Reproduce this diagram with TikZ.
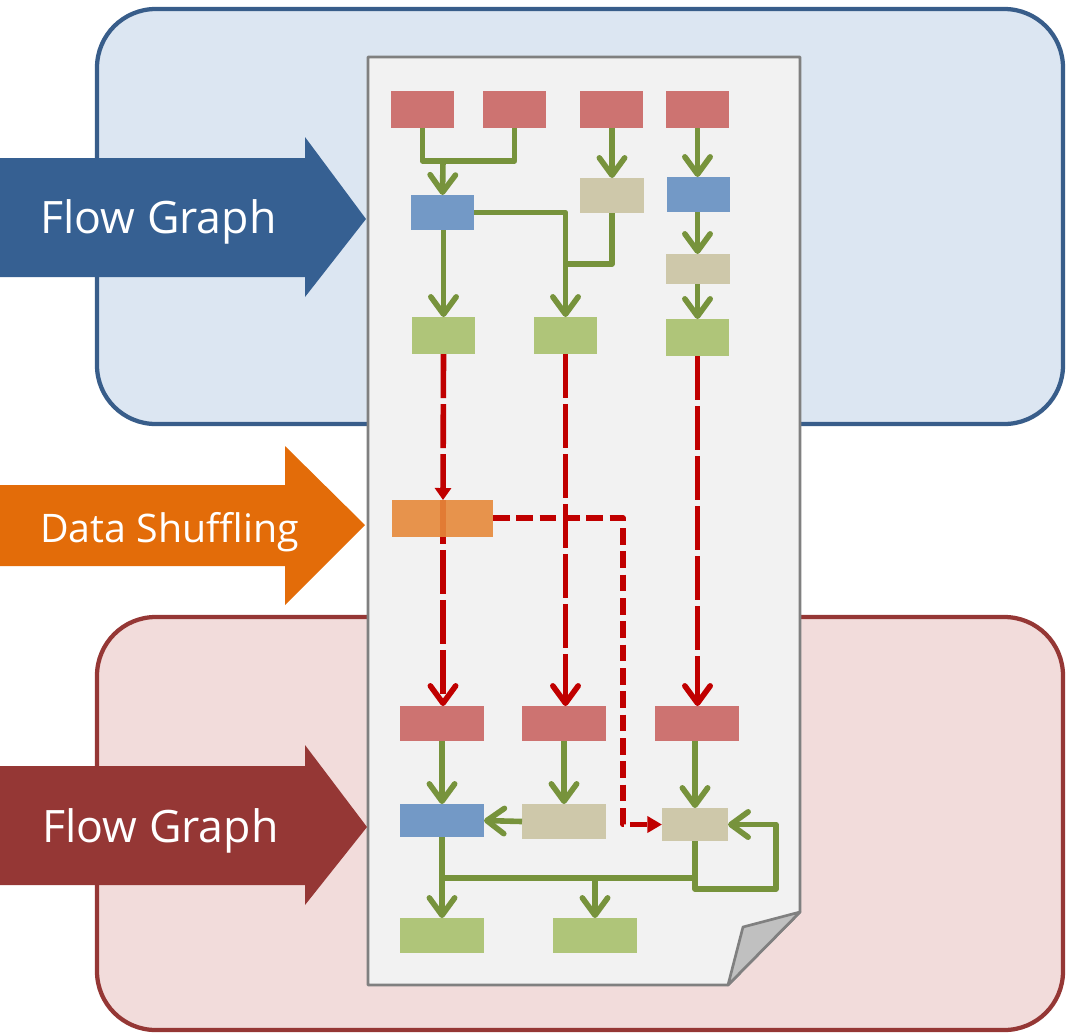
\documentclass[tikz,border=0pt]{standalone}
\usepackage{fontspec}
\setmainfont{Open Sans}
\usetikzlibrary{arrows.meta,fit}

\definecolor{bgblue}{HTML}{DCE6F2}
\definecolor{bdblue}{HTML}{385D8A}
\definecolor{bgred}{HTML}{F2DCDB}
\definecolor{bdred}{HTML}{953735}
\definecolor{arrblue}{HTML}{366092}
\definecolor{arrorange}{HTML}{E36C09}
\definecolor{arrred}{HTML}{953735}
\definecolor{paper}{HTML}{F2F2F2}
\definecolor{paperedge}{HTML}{808080}
\definecolor{foldgray}{HTML}{C0C0C0}
\definecolor{cred}{HTML}{CD7371}
\definecolor{cblue}{HTML}{7399C6}
\definecolor{ctan}{HTML}{CEC8AA}
\definecolor{cgreen}{HTML}{AFC579}
\definecolor{corange}{HTML}{E6893A}
\definecolor{lgreen}{HTML}{77933C}
\definecolor{lred}{HTML}{C00000}

\tikzset{
  blk/.style={inner sep=0pt, outer sep=0pt, draw=none},
  panel/.style={line width=3.2pt, rounded corners=44pt},
  gline/.style={draw=lgreen, line width=4.2pt, line join=round},
  garrow/.style={gline, -{Straight Barb[length=13pt,width=19pt,round]}},
  rline/.style={draw=lred, line width=4.2pt, dash pattern=on 33pt off 4.5pt},
  rarrow/.style={rline, -{Straight Barb[length=13pt,width=19pt,round]}},
  rsmall/.style={rline, -{Triangle[length=9pt,width=12pt]}},
  oline/.style={draw=lred, line width=4.2pt, line join=round, dash pattern=on 12.5pt off 5pt},
  bigtext/.style={text=white, anchor=base west, inner sep=0pt},
}

\begin{document}
\begin{tikzpicture}[x=0.75pt,y=-0.75pt]
\useasboundingbox (0,0) rectangle (1066,1033);

% background panels
\draw[panel, draw=bdblue, fill=bgblue] (97,9) rectangle (1063,424);
\draw[panel, draw=bdred, fill=bgred] (97,617) rectangle (1063,1030);

% paper sheet with folded corner
\draw[draw=paperedge, fill=paper, line width=2pt, line join=round]
  (368,57) -- (800,57) -- (800,912) -- (728,985) -- (368,985) -- cycle;
\draw[draw=paperedge, fill=foldgray, line width=2pt, line join=round]
  (728,985) -- (743,927) -- (800,912) -- cycle;

% big side arrows
\fill[arrblue] (0,158) -- (305,158) -- (305,137) -- (366,219) -- (305,297) -- (305,277) -- (0,277) -- cycle;
\fill[arrorange] (0,485) -- (285,485) -- (285,446) -- (365,525) -- (285,605) -- (285,566) -- (0,566) -- cycle;
\fill[arrred] (0,766) -- (305,766) -- (305,745) -- (367,827) -- (305,905) -- (305,885) -- (0,885) -- cycle;
\node[bigtext, font=\fontsize{33.5}{40}\selectfont] (t1) at (40,233) {Flow Graph};
\node[bigtext, font=\fontsize{29.5}{36}\selectfont] (t2) at (40,542) {Data Shuffling};
\node[bigtext, font=\fontsize{33.5}{40}\selectfont] (t3) at (42,842) {Flow Graph};

% upper flow graph blocks
\node[blk, fill=cred, fit={(391,91) (454,128)}] (A1) {};
\node[blk, fill=cred, fit={(483,91) (546,128)}] (A2) {};
\node[blk, fill=cred, fit={(580,91) (643,128)}] (A3) {};
\node[blk, fill=cred, fit={(666,91) (729,128)}] (A4) {};
\node[blk, fill=cblue, fit={(411,195) (474,230)}] (B1) {};
\node[blk, fill=ctan, fit={(580,178) (644,213)}] (C3) {};
\node[blk, fill=cblue, fit={(667,177) (730,212)}] (B4) {};
\node[blk, fill=ctan, fit={(666,254) (730,284)}] (C4) {};
\node[blk, fill=cgreen, fit={(412,317) (475,354)}] (G1) {};
\node[blk, fill=cgreen, fit={(534,317) (597,354)}] (G2) {};
\node[blk, fill=cgreen, fit={(666,319) (729,356)}] (G4) {};

% lower flow graph blocks
\node[blk, fill=cred, fit={(400,706) (484,741)}] (R1) {};
\node[blk, fill=cred, fit={(522,706) (606,741)}] (R2) {};
\node[blk, fill=cred, fit={(655,706) (739,741)}] (R3) {};
\node[blk, fill=cblue, fit={(400,804) (484,837)}] (B5) {};
\node[blk, fill=ctan, fit={(522,804) (606,839)}] (T5) {};
\node[blk, fill=ctan, fit={(662,808) (728,841)}] (C5) {};
\node[blk, fill=cgreen, fit={(400,918) (484,953)}] (G5) {};
\node[blk, fill=cgreen, fit={(553,918) (637,953)}] (G6) {};

% junction points
\coordinate (j1) at (443,161);
\coordinate (j2) at (565.5,264);
\coordinate (j3) at (442,878);
\coordinate (j5) at (776,889);
\coordinate (k1) at (623,518);

% upper connectors
\draw[gline] (A1.south) -- (A1.south |- j1) -- (A2.south |- j1) -- (A2.south);
\draw[garrow] (j1) -- (B1.north);
\draw[garrow] (C3.north |- A3.south) -- (C3.north);
\draw[garrow] (A4.south) -- (A4.south |- B4.north);
\draw[garrow] (G1.north |- B1.south) -- (G1.north);
\draw[garrow] (B1.east) -| (G2.north);
\draw[gline] (C3.south) |- (j2);
\draw[garrow] (A4.south |- B4.south) -- (A4.south |- C4.north);
\draw[garrow] (A4.south |- C4.south) -- (A4.south |- G4.north);

% data shuffling stage
\coordinate (o1) at (443,500);
\draw[rsmall] (G1.south) -- (o1);
\draw[rarrow] (o1) -- (o1 |- R1.north);
\draw[rarrow] (G2.south) -- (G2.south |- R2.north);
\draw[rarrow] (G4.south) -- (G4.south |- R3.north);
\node[blk, fill=corange, fill opacity=0.9, fit={(392,500) (493,537)}] (O) {};
\draw[oline, -{Triangle[length=11pt,width=12pt]}]
  (O.east |- k1) -- (k1) -- (k1 |- C5.west) -- (C5.west);

% lower connectors
\draw[garrow] (R1.south) -- (B5.north);
\draw[garrow] (R2.south) -- (T5.north);
\draw[garrow] (T5.west) -- (B5.east);
\draw[garrow] (C5.north |- R3.south) -- (C5.north);
\draw[garrow] (B5.south) -- (G5.north);
\draw[gline] (j3) -- (G6.north |- j3);
\draw[gline] (C5.south) -- (C5.south |- j3) -- (G6.north |- j3);
\draw[garrow] (G6.north |- j3) -- (G6.north);
\draw[garrow] (C5.south) |- (j5) |- (C5.east);
\end{tikzpicture}
\end{document}
